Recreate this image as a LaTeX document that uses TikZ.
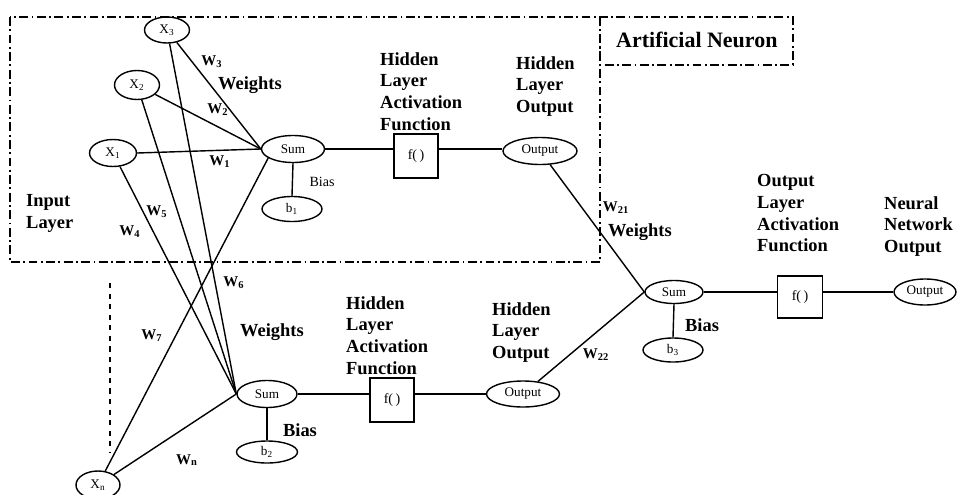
\documentclass[tikz,border=0pt]{standalone}
\usepackage{fontspec}
\setmainfont{Liberation Serif}
\usetikzlibrary{shapes.geometric, positioning}

\begin{document}
\begin{tikzpicture}[
  x=0.2mm, y=-0.2mm,
  every node/.style={align=left},
  %% ─── styles ─────────────────────────────────────────────────
  unit/.style={
    draw, ellipse, inner sep=0pt, line width=0.8pt,
    minimum width=1.2cm, minimum height=0.54cm, font=\fontsize{7.5}{8}\selectfont
  },
  actbox/.style={
    draw, line width=0.8pt, minimum width=0.88cm, minimum height=0.88cm,
    font=\fontsize{8}{9}\selectfont
  },
  caption/.style={anchor=north west, font=\fontsize{10.5}{12.4}\selectfont\bfseries},
  wlabel/.style={font=\fontsize{8.5}{9}\selectfont\bfseries},
  link/.style={line width=0.8pt},
  frame/.style={line width=0.6pt, dash pattern=on 5pt off 2pt on 1pt off 2pt}
]
  \useasboundingbox (0,0) rectangle (958,494);

  %% ─── 1. Inputs ───────────────────────────────────────────────
  \node[unit, minimum width=0.9cm, minimum height=0.52cm] (x3) at (167, 30) {X\textsubscript{3}};
  \node[unit, minimum width=0.9cm, minimum height=0.58cm] (x2) at (137, 85) {X\textsubscript{2}};
  \node[unit, minimum width=0.94cm, minimum height=0.54cm] (x1) at (113, 153) {X\textsubscript{1}};
  \node[unit, minimum width=0.88cm, minimum height=0.56cm] (xn) at (98, 485) {X\textsubscript{n}};

  %% ─── 2. Hidden neurons ───────────────────────────────────────
  \node[unit, minimum width=1.26cm] (sum1) at (293, 149) {Sum};
  \node[unit, minimum height=0.5cm] (b1) at (292, 209) {b\textsubscript{1}};
  \node[actbox] (f1) at (416, 156) {f(\,)};
  \node[unit, minimum width=1.48cm] (out1) at (540, 151) {Output};

  \node[unit] (sum2) at (267, 394) {Sum};
  \node[unit, minimum width=1.22cm, minimum height=0.44cm] (b2) at (267, 452) {b\textsubscript{2}};
  \node[actbox] (f2) at (392, 400) {f(\,)};
  \node[unit, minimum width=1.46cm, minimum height=0.52cm] (out2) at (523, 394) {Output};

  %% ─── 3. Output neuron ────────────────────────────────────────
  \node[unit, minimum width=1.16cm, minimum height=0.46cm] (sum3) at (674, 292) {Sum};
  \node[unit, minimum height=0.48cm] (b3) at (673, 350) {b\textsubscript{3}};
  \node[actbox, minimum width=0.9cm, minimum height=0.84cm] (f3) at (800, 297) {f(\,)};
  \node[unit, minimum width=1.24cm, minimum height=0.52cm] (out3) at (925, 292) {Output};

  %% ─── 4. Captions ─────────────────────────────────────────────
  \node[caption] (inlayer) at (20, 188) {Input\\Layer};
  \node[caption] (act1) at (374, 46) {Hidden\\Layer\\Activation\\Function};
  \node[caption] (hout1) at (510, 50) {Hidden\\Layer\\Output};
  \node[caption] (act2) at (340, 290) {Hidden\\Layer\\Activation\\Function};
  \node[caption] (hout2) at (486, 296) {Hidden\\Layer\\Output};
  \node[caption] (act3) at (751, 168) {Output\\Layer\\Activation\\Function};
  \node[caption] (netout) at (878, 190) {Neural\\Network\\Output};
  \node[caption, font=\fontsize{12.5}{14}\selectfont\bfseries] (neuron) at (610, 26) {Artificial Neuron};

  %% ─── 5. Connections ──────────────────────────────────────────
  \draw[link] (x3) -- (sum1.west);
  \draw[link] (x2) -- (sum1.west);
  \draw[link] (x1.east) -- (sum1.west);
  \draw[link] (xn) -- (sum1.200);
  \draw[link] (x3) -- (sum2.west);
  \draw[link] (x2) -- (sum2.west);
  \draw[link] (x1) -- (sum2.west);
  \draw[link] (xn) -- (sum2.west);

  \draw[link] (sum1.east) -- (f1.west |- sum1.east);
  \draw[link] (f1.east |- sum1.east) -- (out1.west |- sum1.east);
  \draw[link] (sum1.south) -- (b1.north);
  \draw[link] (sum2.east) -- (f2.west |- sum2.east);
  \draw[link] (f2.east |- sum2.east) -- (out2.west |- sum2.east);
  \draw[link] (sum2.south) -- (b2.north);

  \draw[link] (out1) -- (sum3.west);
  \draw[link] (out2) -- (sum3.west);
  \draw[link] (sum3.east) -- (f3.west |- sum3.east);
  \draw[link] (f3.east |- sum3.east) -- (out3.west);
  \draw[link] (sum3.south) -- (b3.north);

  % weights and biases
  \node[wlabel] (w3) at (212, 62) {W\textsubscript{3}};
  \node[wlabel] (w2) at (218, 110) {W\textsubscript{2}};
  \node[wlabel] (w1) at (220, 162) {W\textsubscript{1}};
  \node[caption, anchor=center] (wts1) at (250, 85) {Weights};
  \node[wlabel] (w5) at (157, 212) {W\textsubscript{5}};
  \node[wlabel] (w4) at (130, 232) {W\textsubscript{4}};
  \node[wlabel] (w6) at (234, 283) {W\textsubscript{6}};
  \node[wlabel] (w7) at (152, 336) {W\textsubscript{7}};
  \node[wlabel] (wn) at (187, 460) {W\textsubscript{n}};
  \node[caption, anchor=center] (wts2) at (272, 332) {Weights};
  \node[wlabel] (w21) at (616, 208) {W\textsubscript{21}};
  \node[wlabel] (w22) at (596, 355) {W\textsubscript{22}};
  \node[caption, anchor=center] (wts3) at (640, 232) {Weights};

  \node[font=\fontsize{8}{9}\selectfont] (bias1) at (322, 182) {Bias};
  \node[caption, anchor=center] (bias2) at (300, 430) {Bias};
  \node[caption, anchor=center] (bias3) at (702, 325) {Bias};

  %% ─── 6. Frames ───────────────────────────────────────────────
  \draw[frame] (10, 17) rectangle (600, 262);
  \draw[frame] (600, 17) rectangle (793, 65);
  \draw[line width=0.6pt, dashed] (110, 283) -- (110, 452);

\end{tikzpicture}
\end{document}
